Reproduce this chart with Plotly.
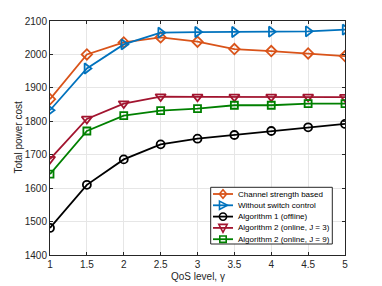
import plotly.graph_objects as go

qos = [1, 1.5, 2, 2.5, 3, 3.5, 4, 4.5, 5]
channel_strength = [1866, 2000, 2036, 2051, 2038, 2016, 2010, 2003, 1995]
without_switch = [1833, 1958, 2030, 2065, 2067, 2067, 2068, 2069, 2074]
alg1_offline = [1481, 1610, 1686, 1731, 1748, 1759, 1771, 1782, 1792]
alg2_j3 = [1687, 1807, 1853, 1874, 1873, 1873, 1873, 1873, 1872]
alg2_j9 = [1642, 1771, 1817, 1832, 1838, 1848, 1848, 1853, 1853]

x_ticks = [1, 1.5, 2, 2.5, 3, 3.5, 4, 4.5, 5]
y_ticks = [1400, 1500, 1600, 1700, 1800, 1900, 2000, 2100]

series = [
    ("Channel strength based", channel_strength, "#D95319", "diamond-open"),
    ("Without switch control", without_switch, "#0072BD", "triangle-right-open"),
    ("Algorithm 1 (offline)", alg1_offline, "#000000", "circle-open"),
    ("Algorithm 2 (online, J = 3)", alg2_j3, "#A2142F", "triangle-down-open"),
    ("Algorithm 2 (online, J = 9)", alg2_j9, "#008000", "square-open"),
]

# page has an 8px body margin; compensate so the plot area lands at page px
OFF = 8
PL, PR, PT, PB = 50, 345, 21, 255  # plot area in page pixels
W, H = 382 - OFF, 286 - OFF
ML, MT = PL - OFF, PT - OFF
MR = (OFF + W) - PR
MB = (OFF + H) - PB
PW, PH = PR - PL, PB - PT


def px(xp):
    return (xp - PL) / PW


def py(yp):
    return (PB - yp) / PH


fig = go.Figure()
for name, vals, col, sym in series:
    size = 8
    if sym == "square-open":
        size = 7
    if sym.startswith("triangle"):
        size = 9
    fig.add_trace(go.Scatter(
        x=qos, y=vals, name=name, mode="lines+markers",
        line=dict(color=col, width=1.8),
        marker=dict(symbol=sym, size=size, color=col, line=dict(color=col, width=1.8)),
        showlegend=False,
    ))

# custom compact legend (MATLAB style)
shapes = []
annotations = []
lx0, lx1, ly0, ly1 = 210.7, 332.3, 187.3, 244.0
shapes.append(dict(type="rect", xref="paper", yref="paper",
                   x0=px(lx0), x1=px(lx1), y0=py(ly1), y1=py(ly0),
                   line=dict(color="#262626", width=1), fillcolor="white", layer="above"))
row_h = 11.3
for i, (name, vals, col, sym) in enumerate(series):
    cy = 194.0 + i * row_h
    shapes.append(dict(type="line", xref="paper", yref="paper",
                       x0=px(213), x1=px(233), y0=py(cy), y1=py(cy),
                       line=dict(color=col, width=1.8), layer="above"))
    cx = 223.0
    r = 3.6
    mk = dict(xref="paper", yref="paper", line=dict(color=col, width=1.6), layer="above")
    if sym == "circle-open":
        shapes.append(dict(type="circle", x0=px(cx - r), x1=px(cx + r), y0=py(cy + r), y1=py(cy - r), **mk))
    elif sym == "square-open":
        s = 3.2
        shapes.append(dict(type="rect", x0=px(cx - s), x1=px(cx + s), y0=py(cy + s), y1=py(cy - s), **mk))
    else:
        if sym == "diamond-open":
            pts = [(cx, cy - 4.2), (cx + 3.6, cy), (cx, cy + 4.2), (cx - 3.6, cy)]
        elif sym == "triangle-right-open":
            pts = [(cx - 3.5, cy - 4.2), (cx + 4.5, cy), (cx - 3.5, cy + 4.2)]
        else:
            pts = [(cx - 4.2, cy - 3.5), (cx + 4.2, cy - 3.5), (cx, cy + 4.5)]
        path = "M " + " L ".join(f"{px(a):.5f},{py(b):.5f}" for a, b in pts) + " Z"
        shapes.append(dict(type="path", path=path, **mk))
    annotations.append(dict(xref="paper", yref="paper", x=px(235.5), y=py(cy),
                            xanchor="left", yanchor="middle", showarrow=False,
                            text=name, font=dict(family="Liberation Sans, Arial", size=8, color="#000000")))

# axis titles
annotations.append(dict(xref="paper", yref="paper", x=px(198), y=py(276),
                        xanchor="center", yanchor="middle", showarrow=False,
                        text="QoS level, γ", font=dict(family="Liberation Sans, Arial", size=10, color="#262626")))
annotations.append(dict(xref="paper", yref="paper", x=px(17.5), y=py(138),
                        xanchor="center", yanchor="middle", showarrow=False, textangle=-90,
                        text="Total power cost", font=dict(family="Liberation Sans, Arial", size=10, color="#262626")))

axis_common = dict(
    showline=True, linecolor="#262626", linewidth=1, mirror="ticks",
    ticks="inside", ticklen=3, tickcolor="#262626",
    showgrid=True, gridcolor="#E6E6E6", gridwidth=1,
    zeroline=False, automargin=False,
    tickfont=dict(family="Liberation Sans, Arial", size=10, color="#262626"),
)

fig.update_layout(
    width=W, height=H,
    margin=dict(l=ML, r=MR, t=MT, b=MB),
    paper_bgcolor="white", plot_bgcolor="white",
    font=dict(family="Liberation Sans, Arial", size=10, color="#262626"),
    xaxis=dict(range=[1, 5], tickvals=x_ticks, ticktext=[str(v) for v in x_ticks], **axis_common),
    yaxis=dict(range=[1400, 2100], tickvals=y_ticks, **axis_common),
    shapes=shapes,
    annotations=annotations,
    showlegend=False,
)

fig.write_html("out.html")
